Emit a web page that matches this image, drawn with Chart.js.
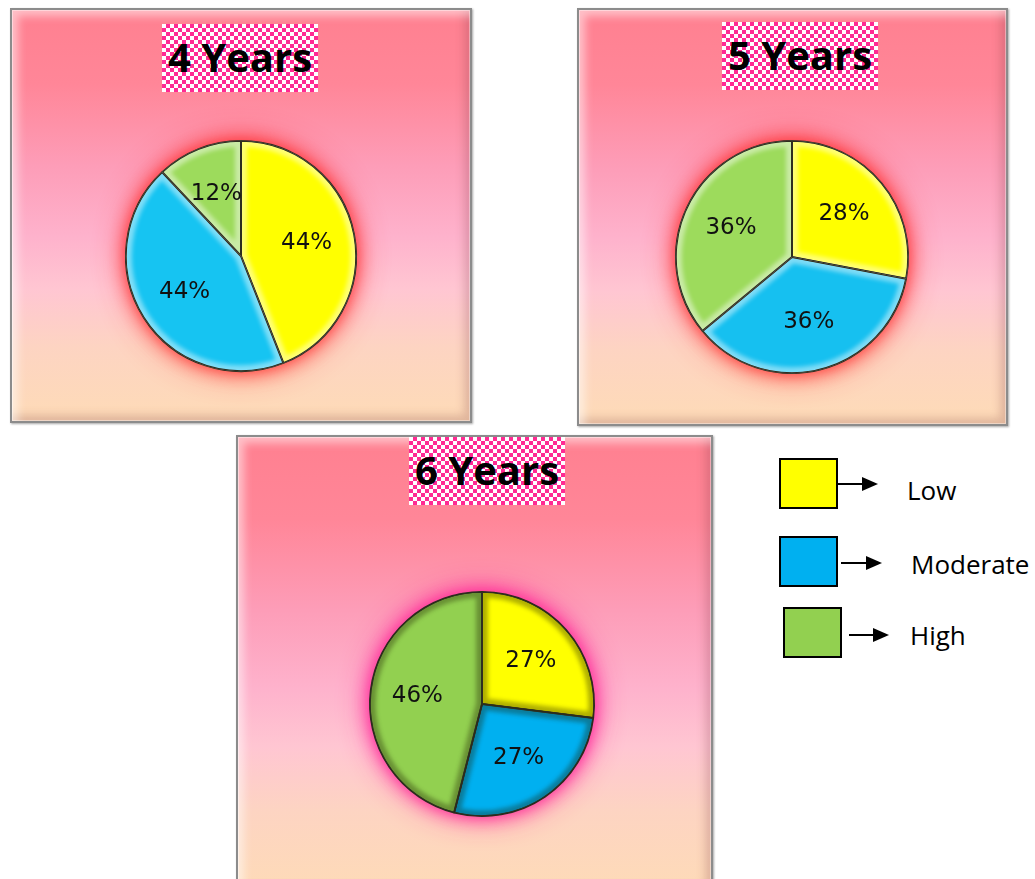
<!DOCTYPE html>
<html>
<head>
<meta charset="utf-8">
<title>Risk level by age</title>
<script src="https://cdn.jsdelivr.net/npm/chart.js@4.4.1/dist/chart.umd.min.js"></script>
<style>
  html, body { margin: 0; padding: 0; width: 1035px; height: 879px; overflow: hidden; background: #fff; }
  .panel {
    position: absolute; box-sizing: border-box; border: 2px solid #8c8c8c;
    background: linear-gradient(to bottom, #ff8090 0%, #ff8698 18%, #fd9db8 38%, #feb2cc 55%, #ffc6d2 68%, #fdd4c2 82%, #fedbb7 100%);
    box-shadow: inset 0 0 0 1px rgba(255,255,255,.4), inset 10px 10px 8px -4px rgba(255,255,255,.5),
                inset -10px -10px 8px -4px rgba(120,50,60,.22), 1px 1px 2px rgba(0,0,0,.35);
  }
  .title {
    position: absolute; width: 156px; height: 68px; line-height: 66px; text-align: center;
    font-family: 'Open Sans', sans-serif; font-weight: 700; font-size: 40px; color: #000;
    background: repeating-conic-gradient(#ff2a93 0 25%, #fff 0 50%) 0 0 / 8px 8px;
  }
  canvas { position: absolute; }
  .lg-box { position: absolute; width: 59px; height: 51px; box-sizing: border-box; border: 2px solid #000; }
  .lg-line { position: absolute; height: 2px; background: #000; }
  .lg-head { position: absolute; width: 0; height: 0; border-top: 7px solid transparent; border-bottom: 7px solid transparent; border-left: 16px solid #000; }
  .lg-text { position: absolute; font-family: 'Open Sans', sans-serif; font-size: 26px; color: #000; line-height: 30px; }
</style>
</head>
<body>
<script>
// data
const categories = ['Low', 'Moderate', 'High'];
const panelTitles = ['4 Years', '5 Years', '6 Years'];
const years4 = [44, 44, 12];
const years5 = [28, 36, 36];
const years6 = [27, 27, 46];
const legendColors = ['#ffff00', '#00b0f0', '#92d050'];

// page layout for the three panels
const panels = [
  { values: years4, box: [10, 8, 462, 415], title: [162, 24], cx: 241, cy: 256, r: 115,
    colors: ['#ffff00', '#16c4f2', '#9ddb5c'], glow: 'rgba(255,40,40,0.9)', bevel: 'rgba(255,255,255,0.45)' },
  { values: years5, box: [577, 8, 431, 418], title: [722, 22], cx: 792, cy: 257, r: 116,
    colors: ['#ffff00', '#16c0f0', '#9ddb5c'], glow: 'rgba(255,40,40,0.9)', bevel: 'rgba(255,255,255,0.45)' },
  { values: years6, box: [236, 435, 477, 460], title: [409, 437], cx: 482, cy: 704, r: 112,
    colors: ['#ffff00', '#00b0f0', '#92d050'], glow: 'rgba(255,30,150,0.95)', bevel: 'rgba(30,30,0,0.35)' }
];

// glow behind the pie, bevelled slice edges and the percentage labels
const pieDecor = {
  id: 'pieDecor',
  beforeDatasetsDraw(chart, args, opts) {
    const a = chart.getDatasetMeta(0).data[0];
    const ctx = chart.ctx;
    ctx.save();
    ctx.shadowColor = opts.glow;
    ctx.fillStyle = opts.glow;
    [30, 16].forEach((blur) => {
      ctx.shadowBlur = blur;
      ctx.beginPath();
      ctx.arc(a.x, a.y, a.outerRadius, 0, Math.PI * 2);
      ctx.fill();
    });
    ctx.restore();
  },
  afterDatasetsDraw(chart, args, opts) {
    const ctx = chart.ctx;
    const values = chart.data.datasets[0].data;
    const arcs = chart.getDatasetMeta(0).data;
    arcs.forEach((a) => {
      ctx.save();
      ctx.beginPath();
      ctx.moveTo(a.x, a.y);
      ctx.arc(a.x, a.y, a.outerRadius, a.startAngle, a.endAngle);
      ctx.closePath();
      ctx.clip();
      ctx.filter = 'blur(2px)';
      ctx.lineWidth = 12;
      ctx.strokeStyle = opts.bevel;
      ctx.stroke();
      ctx.filter = 'none';
      ctx.lineWidth = 2;
      ctx.strokeStyle = '#2e2e20';
      ctx.stroke();
      ctx.restore();
    });
    ctx.save();
    ctx.font = '23px "DejaVu Sans"';
    ctx.fillStyle = '#111';
    ctx.textAlign = 'center';
    ctx.textBaseline = 'middle';
    arcs.forEach((a, i) => {
      const mid = (a.startAngle + a.endAngle) / 2;
      const d = a.outerRadius * 0.58;
      ctx.fillText(values[i] + '%', a.x + Math.cos(mid) * d, a.y + Math.sin(mid) * d);
    });
    ctx.restore();
  }
};

const SIZE = 320;

panels.forEach((p, idx) => {
  const box = document.createElement('div');
  box.className = 'panel';
  Object.assign(box.style, { left: p.box[0] + 'px', top: p.box[1] + 'px', width: p.box[2] + 'px', height: p.box[3] + 'px' });
  document.body.appendChild(box);

  const canvas = document.createElement('canvas');
  canvas.width = SIZE;
  canvas.height = SIZE;
  canvas.style.left = (p.cx - SIZE / 2) + 'px';
  canvas.style.top = (p.cy - SIZE / 2) + 'px';
  document.body.appendChild(canvas);

  const title = document.createElement('div');
  title.className = 'title';
  title.textContent = panelTitles[idx];
  title.style.left = p.title[0] + 'px';
  title.style.top = p.title[1] + 'px';
  document.body.appendChild(title);

  new Chart(canvas.getContext('2d'), {
    type: 'pie',
    data: {
      labels: categories,
      datasets: [{
        data: p.values,
        backgroundColor: p.colors,
        borderColor: '#2e2e20',
        borderWidth: 1.5
      }]
    },
    options: {
      responsive: false,
      animation: false,
      layout: { padding: SIZE / 2 - 1 - p.r },
      plugins: {
        legend: { display: false },
        tooltip: { enabled: false },
        pieDecor: { glow: p.glow, bevel: p.bevel }
      }
    },
    plugins: [pieDecor]
  });
});

// legend: coloured box, arrow, category name
const legendRows = [
  { box: [779, 458], arrow: [838, 878, 484], text: [907, 475] },
  { box: [779, 536], arrow: [841, 882, 563], text: [911, 549] },
  { box: [783, 607], arrow: [849, 889, 635], text: [910, 620] }
];
legendRows.forEach((row, i) => {
  const b = document.createElement('div');
  b.className = 'lg-box';
  b.style.left = row.box[0] + 'px';
  b.style.top = row.box[1] + 'px';
  b.style.background = legendColors[i];
  document.body.appendChild(b);

  const [x0, x1, y] = row.arrow;
  const line = document.createElement('div');
  line.className = 'lg-line';
  line.style.left = x0 + 'px';
  line.style.top = (y - 1) + 'px';
  line.style.width = (x1 - x0 - 14) + 'px';
  document.body.appendChild(line);

  const head = document.createElement('div');
  head.className = 'lg-head';
  head.style.left = (x1 - 16) + 'px';
  head.style.top = (y - 7) + 'px';
  document.body.appendChild(head);

  const t = document.createElement('div');
  t.className = 'lg-text';
  t.textContent = categories[i];
  t.style.left = row.text[0] + 'px';
  t.style.top = row.text[1] + 'px';
  document.body.appendChild(t);
});
</script>
</body>
</html>
